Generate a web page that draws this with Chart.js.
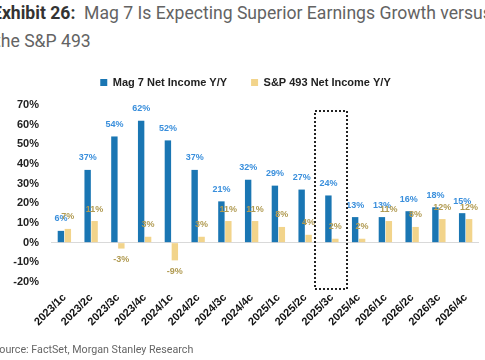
<!DOCTYPE html>
<html>
<head>
<meta charset="utf-8">
<script src="https://cdn.jsdelivr.net/npm/chart.js@4"></script>
<style>
  html, body { margin: 0; padding: 0; background: #fff; }
  body { width: 485px; height: 360px; position: relative; overflow: hidden; }
  #wrap { position: absolute; left: 0; top: 0; width: 485px; height: 360px; }
  .t { position: absolute; white-space: nowrap; font-family: Roboto, "Liberation Sans", sans-serif; color: #636363; }
  #t1 { left: -8px; top: 0px; font-size: 17.6px; line-height: 26px; }
  #t1 b { color: #333; font-weight: 700; }
  #t2 { left: -5px; top: 28px; font-size: 17.6px; line-height: 26px; }
  #src { left: -7px; top: 342px; font-size: 10.7px; line-height: 16px; color: #666; }
</style>
</head>
<body>
<div class="t" id="t1"><b>Exhibit 26:</b>&nbsp;&nbsp;Mag 7 Is Expecting Superior Earnings Growth versus</div>
<div class="t" id="t2">the S&amp;P 493</div>
<div id="wrap"><canvas id="c" width="485" height="360"></canvas></div>
<div class="t" id="src">Source: FactSet, Morgan Stanley Research</div>
<script>
const categories = ["2023/1c","2023/2c","2023/3c","2023/4c","2024/1c","2024/2c","2024/3c","2024/4c",
                    "2025/1c","2025/2c","2025/3c","2025/4c","2026/1c","2026/2c","2026/3c","2026/4c"];
const mag7 = [6, 37, 54, 62, 52, 37, 21, 32, 29, 27, 24, 13, 13, 16, 18, 15];
const sp493 = [7, 11, -3, 3, -9, 3, 11, 11, 8, 4, 2, 2, 11, 8, 12, 12];
const seriesNames = ["Mag 7 Net Income Y/Y", "S&P 493 Net Income Y/Y"];
const yTicks = [-20, -10, 0, 10, 20, 30, 40, 50, 60, 70];
const highlightCategory = "2025/3c";

const barColors = ["#1a76b3", "#f2d48b"];
const labelColors = ["#3a8fdc", "#b19b52"];
const FONT = "'Liberation Sans', Arial, sans-serif";

const legendSpacing = {
  id: 'legendSpacing',
  beforeLayout(chart) {
    const lg = chart.legend;
    if (lg && !lg._patched) {
      const orig = lg.fit;
      lg.fit = function () { orig.call(this); this.height += 7; };
      lg._patched = true;
    }
  },
  afterLayout(chart) {
    const lg = chart.legend;
    if (lg) { lg.left += 6; lg.right += 6; }
  }
};

const valueLabels = {
  id: 'valueLabels',
  afterDatasetsDraw(chart) {
    const ctx = chart.ctx;
    ctx.save();
    ctx.font = "bold 9px " + FONT;
    ctx.textAlign = 'center';
    ctx.textBaseline = 'middle';
    chart.data.datasets.forEach((ds, i) => {
      const meta = chart.getDatasetMeta(i);
      ctx.fillStyle = labelColors[i];
      meta.data.forEach((el, j) => {
        const v = ds.data[j];
        const y = v >= 0 ? el.y - 12 : el.y + 11;
        ctx.fillText(v + '%', el.x, y);
      });
    });
    ctx.restore();
  }
};

const highlightBox = {
  id: 'highlightBox',
  afterDraw(chart) {
    const xs = chart.scales.x, ys = chart.scales.y;
    const idx = categories.indexOf(highlightCategory);
    const cx = xs.getPixelForValue(idx);
    const half = (xs.getPixelForValue(1) - xs.getPixelForValue(0)) * 0.59;
    const top = ys.getPixelForValue(67);
    const bot = ys.getPixelForValue(-23.6);
    const ctx = chart.ctx;
    ctx.save();
    ctx.strokeStyle = '#222';
    ctx.lineWidth = 2;
    ctx.setLineDash([2, 2]);
    ctx.strokeRect(Math.round(cx - half) - 1, Math.round(top), Math.round(half * 2), Math.round(bot - top));
    ctx.restore();
  }
};

new Chart(document.getElementById('c'), {
  type: 'bar',
  data: {
    labels: categories,
    datasets: [
      { label: seriesNames[0], data: mag7, backgroundColor: barColors[0] },
      { label: seriesNames[1], data: sp493, backgroundColor: barColors[1] }
    ]
  },
  options: {
    responsive: false,
    animation: false,
    devicePixelRatio: 1,
    layout: { padding: { top: 53, left: 0, right: 6, bottom: 0 } },
    datasets: { bar: { categoryPercentage: 0.52, barPercentage: 0.92 } },
    plugins: {
      legend: {
        position: 'top',
        labels: {
          boxWidth: 7, boxHeight: 7, padding: 24,
          color: '#222',
          font: { family: FONT, size: 11, weight: 'bold' }
        }
      },
      tooltip: { enabled: false }
    },
    scales: {
      x: {
        grid: { display: false, drawTicks: false },
        border: { display: false },
        ticks: {
          color: '#111', maxRotation: 45, minRotation: 45, padding: 9, autoSkip: false,
          font: { family: FONT, size: 11, weight: 'bold' }
        },
        afterFit(s) { s.height = 78; }
      },
      y: {
        min: -20, max: 70,
        afterBuildTicks(s) { s.ticks = yTicks.map(v => ({ value: v })); },
        grid: {
          drawTicks: false,
          color: c => (c.tick && c.tick.value === 0) ? '#d9d9d9' : 'rgba(0,0,0,0)',
          lineWidth: 1
        },
        border: { display: false },
        ticks: {
          color: '#222', padding: 12,
          font: { family: FONT, size: 11, weight: 'bold' },
          callback: v => v + '%'
        },
        afterFit(s) { s.width = 51; }
      }
    }
  },
  plugins: [legendSpacing, valueLabels, highlightBox]
});
</script>
</body>
</html>
